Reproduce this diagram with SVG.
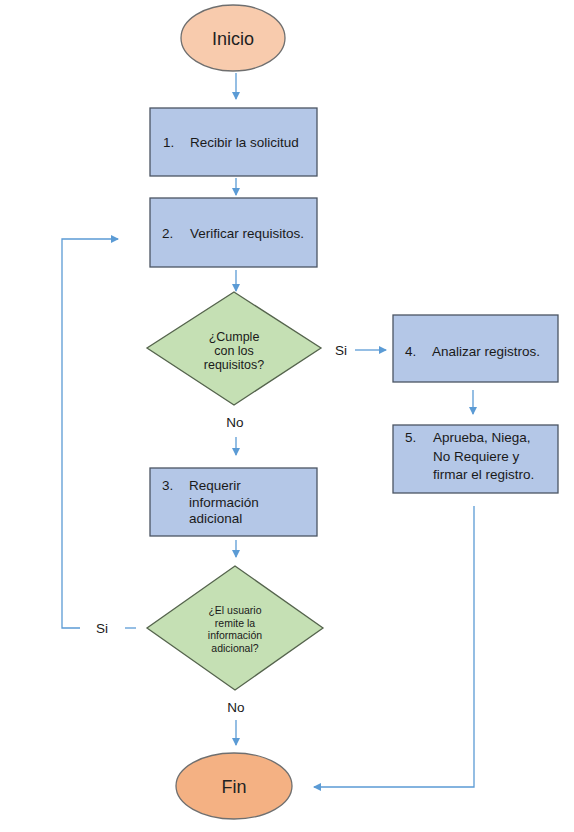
<svg xmlns="http://www.w3.org/2000/svg" width="574" height="832" viewBox="0 0 574 832">
<defs>
<marker id="ah" markerWidth="8" markerHeight="8" refX="7" refY="4" orient="auto" markerUnits="userSpaceOnUse">
<path d="M0,0 L8,4 L0,8 Z" fill="#5B9BD5"/>
</marker>
<style>
.box{fill:#B4C7E7;stroke:#4B5563;stroke-width:1.3}
.dia{fill:#C5E0B4;stroke:#55644d;stroke-width:1.3}
.t{font-family:"Liberation Sans",Arial,sans-serif;font-size:13.5px;fill:#1a1a1a}
.d{font-family:"Liberation Sans",Arial,sans-serif;font-size:12.5px;fill:#1a1a1a;text-anchor:middle}
.s{font-family:"Liberation Sans",Arial,sans-serif;font-size:10.5px;fill:#1a1a1a;text-anchor:middle}
.c{text-anchor:middle}
.big{font-family:"Liberation Sans",Arial,sans-serif;font-size:18px;fill:#222;text-anchor:middle}
.ln{fill:none;stroke:#5B9BD5;stroke-width:1.3}
</style>
</defs>
<rect width="574" height="832" fill="#fff"/>
<g id="connectors">
<path class="ln" d="M236,73 V99" marker-end="url(#ah)"/>
<path class="ln" d="M236,178 V195" marker-end="url(#ah)"/>
<path class="ln" d="M236,270 V291" marker-end="url(#ah)"/>
<path class="ln" d="M355,350 H386" marker-end="url(#ah)"/>
<path class="ln" d="M473,390 V414" marker-end="url(#ah)"/>
<path class="ln" d="M236,437 V455" marker-end="url(#ah)"/>
<path class="ln" d="M236,540 V557" marker-end="url(#ah)"/>
<path class="ln" d="M236,720 V745" marker-end="url(#ah)"/>
<path class="ln" d="M474,506 V787 H314" marker-end="url(#ah)"/>
<path class="ln" d="M136,628 H125"/>
<path class="ln" d="M80,628 H62 V239 H118" marker-end="url(#ah)"/>
<text class="t c" x="341" y="355">Si</text>
<text class="t c" x="235" y="427">No</text>
<text class="t c" x="102" y="633">Si</text>
<text class="t c" x="236" y="712">No</text>
</g>
<g id="inicio">
<ellipse cx="233" cy="38" rx="52" ry="33" fill="#F8CBAD" stroke="#6f6f6f" stroke-width="1.3"/>
<text class="big" x="233" y="45">Inicio</text>
</g>
<g id="n1">
<rect class="box" x="150" y="108" width="167" height="68"/>
<text class="t" x="163" y="147">1.</text>
<text class="t" x="190" y="147">Recibir la solicitud</text>
</g>
<g id="n2">
<rect class="box" x="150" y="198" width="167" height="69"/>
<text class="t" x="162" y="238">2.</text>
<text class="t" x="190" y="238">Verificar requisitos.</text>
</g>
<g id="d1">
<polygon class="dia" points="234,292 321,348 234,405 147,348"/>
<text class="d" x="234" y="341">¿Cumple</text>
<text class="d" x="234" y="355">con los</text>
<text class="d" x="234" y="369">requisitos?</text>
</g>
<g id="n4">
<rect class="box" x="393" y="315" width="165" height="67"/>
<text class="t" x="405" y="356">4.</text>
<text class="t" x="432" y="356">Analizar registros.</text>
</g>
<g id="n5">
<rect class="box" x="393" y="425" width="165" height="68"/>
<text class="t" x="405" y="442">5.</text>
<text class="t" x="433" y="442">Aprueba, Niega,</text>
<text class="t" x="433" y="461">No Requiere y</text>
<text class="t" x="433" y="479">firmar el registro.</text>
</g>
<g id="n3">
<rect class="box" x="150" y="468" width="167" height="68"/>
<text class="t" x="162" y="490">3.</text>
<text class="t" x="189" y="490">Requerir</text>
<text class="t" x="189" y="507">información</text>
<text class="t" x="189" y="523">adicional</text>
</g>
<g id="d2">
<polygon class="dia" points="235,566 323,628 235,690 147,628"/>
<text class="s" x="235" y="614">¿El usuario</text>
<text class="s" x="235" y="627">remite la</text>
<text class="s" x="235" y="639">información</text>
<text class="s" x="235" y="652">adicional?</text>
</g>
<g id="fin">
<ellipse cx="234" cy="786" rx="58" ry="33" fill="#F4B183" stroke="#6f6f6f" stroke-width="1.3"/>
<text class="big" x="234" y="793">Fin</text>
</g>
</svg>
